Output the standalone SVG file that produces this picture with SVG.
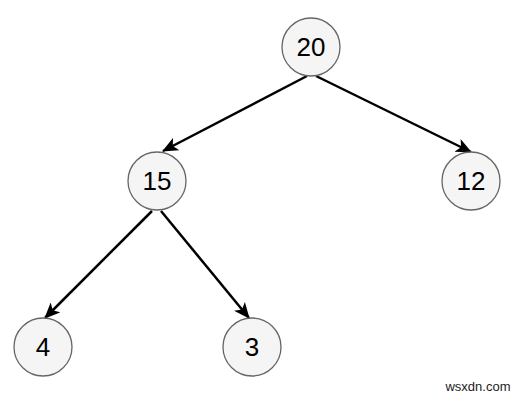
<svg xmlns="http://www.w3.org/2000/svg" width="514" height="401" viewBox="0 0 514 401">
<defs>
<marker id="arr" markerWidth="16" markerHeight="14" refX="15" refY="7" orient="auto" markerUnits="userSpaceOnUse" viewBox="0 0 16 14">
<path d="M0,0 L16,7 L0,14 L4,7 Z" fill="#000"/>
</marker>
<style>
.n{fill:#f5f5f5;stroke:#666;stroke-width:1.3}
.t{font-family:"Liberation Sans",Arial,sans-serif;font-size:26px;fill:#000;text-anchor:middle;dominant-baseline:central}
.e{stroke:#000;stroke-width:2.5;fill:none;marker-end:url(#arr)}
.w{font-family:"Liberation Sans",Arial,sans-serif;font-size:13px;fill:#222;text-anchor:middle}
</style>
</defs>
<rect width="514" height="401" fill="#fff"/>
<g id="edges">
<path class="e" d="M307,76 L163,151"/>
<path class="e" d="M316,76 L471,152"/>
<path class="e" d="M152,211 L45,318"/>
<path class="e" d="M161,211 L249,318"/>
</g>
<g id="n20"><circle class="n" cx="311" cy="47" r="29"/><text class="t" x="311" y="47">20</text></g>
<g id="n15"><circle class="n" cx="157" cy="181" r="29"/><text class="t" x="157" y="181">15</text></g>
<g id="n12"><circle class="n" cx="471" cy="181" r="29"/><text class="t" x="471" y="181">12</text></g>
<g id="n4"><circle class="n" cx="43" cy="347" r="29"/><text class="t" x="43" y="347">4</text></g>
<g id="n3"><circle class="n" cx="252" cy="347" r="29"/><text class="t" x="252" y="347">3</text></g>
<text class="w" x="478" y="391">wsxdn.com</text>
</svg>
